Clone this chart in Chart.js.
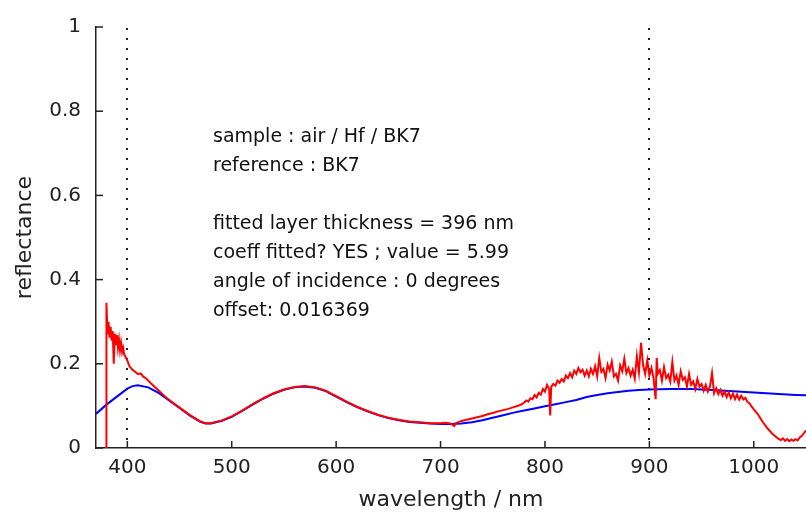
<!DOCTYPE html>
<html>
<head>
<meta charset="utf-8">
<script src="https://cdn.jsdelivr.net/npm/chart.js@4/dist/chart.umd.min.js"></script>
<style>
  html, body { margin: 0; padding: 0; background: #fff; }
  canvas { display: block; }
</style>
</head>
<body>
<canvas id="c" width="806" height="525"></canvas>
<script>
// ---- data ----
const xTicks = [400, 500, 600, 700, 800, 900, 1000];
const yTicks = [0, 0.2, 0.4, 0.6, 0.8, 1];
const markerWl = [400, 900];

const blueWl = [370,380,390,400,405,410,420,430,440,450,460,470,475,480,490,500,510,520,530,540,550,560,570,580,590,600,610,620,630,640,650,660,670,680,690,700,710,720,730,740,750,760,770,780,790,800,810,820,830,840,850,860,870,880,890,900,920,940,960,980,1000,1020,1040,1050];
const blueR  = [0.081,0.103,0.122,0.141,0.147,0.149,0.144,0.131,0.113,0.095,0.077,0.062,0.058,0.058,0.064,0.074,0.088,0.103,0.117,0.129,0.138,0.144,0.146,0.143,0.135,0.122,0.109,0.097,0.087,0.078,0.071,0.066,0.062,0.060,0.058,0.057,0.057,0.058,0.061,0.066,0.072,0.078,0.084,0.089,0.094,0.099,0.104,0.109,0.114,0.121,0.126,0.130,0.133,0.136,0.138,0.139,0.140,0.140,0.138,0.135,0.132,0.129,0.126,0.125];

const redWl = [380,380,381,382,383,384,385,386,387,388,389,390,391,392,393,394,395,396,397,398,400,402,405,408,410,413,415,418,420,425,431,435,440,
  450,460,470,475,480,490,500,510,520,530,540,550,560,570,580,590,600,610,620,630,640,650,660,670,680,690,700,705,710,713,715,718,720,725,730,735,740,745,750,755,760,765,770,775,778,
  780,782,784,786,788,790,792,794,796,798,800,802,804,805,806,808,810,812,814,816,818,820,822,824,826,828,830,832,834,836,838,840,842,844,
  846,848,850,852,854,856,858,860,862,864,866,868,870,872,874,876,878,880,882,884,886,888,890,892,894,896,898,900,902,904,906,907,908,910,912,914,916,918,920,922,924,926,928,930,932,934,936,938,940,942,944,946,948,950,952,954,956,958,960,
  962,964,966,968,970,972,974,976,978,980,982,984,986,988,990,992,994,996,998,1000,1002,1004,1006,1008,1010,1012,1014,1016,1018,1020,1022,1024,1026,1028,1030,1032,1034,1036,1038,1040,1042,1044,1046,1048,1050];
const redR = [0,0.345,0.27,0.30,0.262,0.288,0.255,0.278,0.200,0.272,0.245,0.268,0.238,0.258,0.232,0.25,0.228,0.238,0.222,0.218,0.208,0.194,0.186,0.180,0.176,0.177,0.170,0.165,0.160,0.148,0.134,0.125,0.114,
  0.096,0.078,0.063,0.059,0.059,0.065,0.075,0.089,0.104,0.118,0.130,0.139,0.145,0.147,0.144,0.136,0.123,0.110,0.098,0.088,0.079,0.072,0.067,0.063,0.061,0.059,0.059,0.060,0.058,0.052,0.060,0.062,0.064,0.067,0.070,0.073,0.076,0.080,0.083,0.087,0.090,0.093,0.097,0.101,0.104,
  0.108,0.113,0.110,0.118,0.116,0.126,0.120,0.131,0.127,0.140,0.134,0.150,0.140,0.077,0.146,0.152,0.148,0.160,0.155,0.164,0.158,0.172,0.166,0.178,0.168,0.184,0.176,0.190,0.180,0.186,0.172,0.184,0.170,0.188,
  0.176,0.194,0.170,0.214,0.181,0.188,0.166,0.198,0.184,0.205,0.170,0.176,0.160,0.196,0.182,0.212,0.178,0.190,0.172,0.186,0.165,0.218,0.180,0.250,0.196,0.176,0.208,0.172,0.190,0.166,0.116,0.214,0.176,0.185,0.160,0.192,0.166,0.174,0.158,0.204,0.160,0.172,0.150,0.182,0.162,0.168,0.146,0.176,0.150,0.158,0.140,0.164,0.146,0.152,0.136,0.150,0.134,0.146,0.178,
  0.130,0.142,0.128,0.138,0.124,0.134,0.121,0.132,0.118,0.129,0.116,0.127,0.115,0.124,0.115,0.119,0.109,0.106,0.098,0.092,0.086,0.080,0.072,0.064,0.057,0.050,0.044,0.039,0.033,0.029,0.025,0.021,0.019,0.023,0.017,0.021,0.016,0.020,0.017,0.021,0.018,0.025,0.029,0.035,0.042];

const noteLines = [
  'sample : air / Hf / BK7',
  'reference : BK7',
  '',
  'fitted layer thickness = 396 nm',
  'coeff fitted? YES ; value = 5.99',
  'angle of incidence : 0 degrees',
  'offset: 0.016369'
];

// ---- drawing ----
const FONT = 'DejaVu Sans';
const toPts = (xs, ys) => xs.map((x, i) => ({ x: x, y: ys[i] }));

const decor = {
  id: 'decor',
  beforeDatasetsDraw(chart) {
    const { ctx, chartArea: a, scales: { x } } = chart;
    ctx.save();
    ctx.strokeStyle = '#222';
    ctx.lineWidth = 2;
    ctx.setLineDash([2, 8]);
    markerWl.forEach(w => {
      const px = Math.round(x.getPixelForValue(w));
      ctx.beginPath();
      ctx.moveTo(px, a.top + 1);
      ctx.lineTo(px, a.bottom);
      ctx.stroke();
    });
    ctx.restore();
  },
  afterDraw(chart) {
    const { ctx, chartArea: a, scales: { x, y } } = chart;
    ctx.save();
    ctx.strokeStyle = '#222';
    ctx.lineWidth = 1.5;
    xTicks.forEach(v => {
      const px = x.getPixelForValue(v);
      ctx.beginPath(); ctx.moveTo(px, a.bottom); ctx.lineTo(px, a.bottom - 7); ctx.stroke();
    });
    yTicks.forEach(v => {
      const py = y.getPixelForValue(v);
      ctx.beginPath(); ctx.moveTo(a.left, py); ctx.lineTo(a.left + 7, py); ctx.stroke();
    });
    ctx.fillStyle = '#111';
    ctx.font = '19px "' + FONT + '"';
    ctx.textAlign = 'left';
    ctx.textBaseline = 'middle';
    noteLines.forEach((t, i) => {
      if (t) ctx.fillText(t, 213, 137 + i * 29);
    });
    ctx.restore();
  }
};

new Chart(document.getElementById('c'), {
  type: 'scatter',
  data: {
    datasets: [
      { label: 'measured', data: toPts(redWl, redR), showLine: true, borderColor: '#ff0000', borderWidth: 2, pointRadius: 0, tension: 0 },
      { label: 'model', data: toPts(blueWl, blueR), showLine: true, borderColor: '#0000ff', borderWidth: 2, pointRadius: 0, tension: 0 }
    ]
  },
  options: {
    responsive: false,
    animation: false,
    layout: { padding: { top: 18, left: 0, right: 0, bottom: 0 } },
    plugins: { legend: { display: false }, tooltip: { enabled: false } },
    scales: {
      x: {
        type: 'linear', min: 370, max: 1050,
        afterBuildTicks: s => { s.ticks = xTicks.map(v => ({ value: v })); },
        afterFit: s => { s.height = 77; },
        grid: { display: true, drawOnChartArea: false, drawTicks: false },
        border: { display: true, color: '#222', width: 1.5 },
        ticks: { padding: 8, color: '#222', maxRotation: 0, font: { family: FONT, size: 20 }, callback: v => String(v) },
        title: { display: true, text: 'wavelength / nm', color: '#222', font: { family: FONT, size: 22 }, padding: { top: 0, bottom: 12 } }
      },
      y: {
        type: 'linear', min: 0, max: 1,
        afterBuildTicks: s => { s.ticks = yTicks.map(v => ({ value: v })); },
        afterFit: s => { s.width = 96; },
        grid: { display: true, drawOnChartArea: false, drawTicks: false },
        border: { display: true, color: '#222', width: 1.5 },
        ticks: { padding: 15, color: '#222', font: { family: FONT, size: 20 }, callback: v => String(v) },
        title: { display: true, text: 'reflectance', color: '#222', font: { family: FONT, size: 22 }, padding: { top: 12, bottom: 0 } }
      }
    }
  },
  plugins: [decor]
});
</script>
</body>
</html>
